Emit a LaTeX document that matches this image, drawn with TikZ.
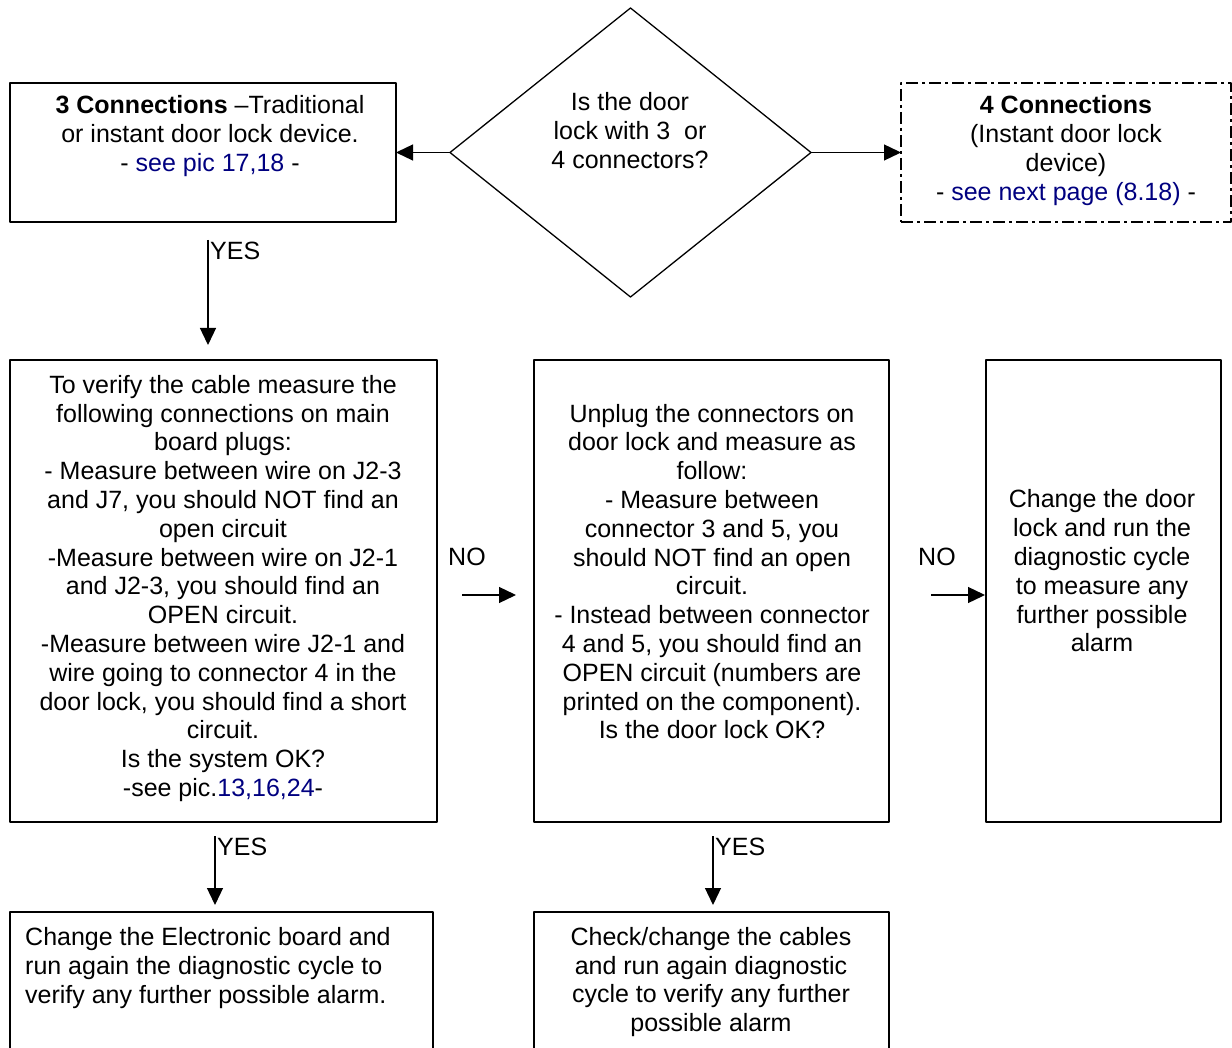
\documentclass[tikz,border=0pt]{standalone}
\usepackage{fontspec}
\setmainfont{Liberation Sans}
\usetikzlibrary{arrows.meta,shapes.geometric}
\definecolor{linkblue}{RGB}{0,0,128}
\newcommand{\lnk}[1]{\textcolor{linkblue}{#1}}

\begin{document}
\begin{tikzpicture}[x=1pt,y=-1pt,>={Triangle[length=17pt,width=16pt]},line join=round,
  box/.style={draw,line width=1.3pt,inner sep=0pt,outer sep=0pt},
  txt/.style={align=center,inner sep=0pt,font=\fontsize{25}{28.8}\selectfont},
  tag/.style={anchor=west,inner sep=0pt,font=\fontsize{25}{28.8}\selectfont},
  arr/.style={->,line width=1.3pt}]
  \useasboundingbox (0,0) rectangle (1232,1048);
  % top row
  \node[box,minimum width=386pt,minimum height=139pt] (conn3) at (203,152.5){};
  \node[txt] at (210,136){\textbf{3 Connections} –Traditional\\or instant door lock device.\\- \lnk{see pic 17,18} -};
  \node[box,diamond,minimum width=361pt,minimum height=289pt] (ask) at (630.5,152.5){};
  \node[txt] at (630,130.5){Is the door\\lock with 3~ or\\4 connectors?};
  \node[box,dash pattern=on 12pt off 4pt on 3pt off 4pt,minimum width=330pt,minimum height=139pt] (conn4) at (1066,152.5){};
  \node[txt] at (1066,150.5){\textbf{4 Connections}\\(Instant door lock\\device)\\- \lnk{see next page (8.18)} -};
  \draw[arr] (ask.west) -- (conn3.east);
  \draw[arr] (ask.east) -- (conn4.west);
  % middle row
  \node[box,minimum width=427pt,minimum height=462pt] (verify) at (223.5,591){};
  \node[txt] at (223,588.5){To verify the cable measure the\\following connections on main\\board plugs:\\- Measure between wire on J2-3\\and J7, you should NOT find an\\open circuit\\-Measure between wire on J2-1\\and J2-3, you should find an\\OPEN circuit.\\-Measure between wire J2-1 and\\wire going to connector 4 in the\\door lock, you should find a short\\circuit.\\Is the system OK?\\-see pic.\lnk{13,16,24}-};
  \node[box,minimum width=355pt,minimum height=462pt] (doorlock) at (711.5,591){};
  \node[txt] at (712,571.5){Unplug the connectors on\\door lock and measure as\\follow:\\- Measure between\\connector 3 and 5, you\\should NOT find an open\\circuit.\\- Instead between connector\\4 and 5, you should find an\\OPEN circuit (numbers are\\printed on the component).\\Is the door lock OK?};
  \node[box,minimum width=235pt,minimum height=462pt] (change) at (1103.5,591){};
  \node[txt] at (1102,571){Change the door\\lock and run the\\diagnostic cycle\\to measure any\\further possible\\alarm};
  \coordinate (yes3) at (208,240);
  \draw[arr,shorten >=15pt] (yes3) -- (yes3 |- verify.north);
  \node[tag] at (210,251){YES};
  \draw[arr,shorten <=25pt,shorten >=18pt] ([yshift=-4pt]verify.east) -- ([yshift=-4pt]doorlock.west);
  \node[tag] at (448,557){NO};
  \draw[arr,shorten <=42pt,shorten >=1pt] ([yshift=-4pt]doorlock.east) -- ([yshift=-4pt]change.west);
  \node[tag] at (918,557){NO};
  % bottom row
  \node[box,minimum width=423pt,minimum height=150pt] (board) at (221.5,987){};
  \node[txt,align=left,anchor=west] at (25,968){Change the Electronic board and\\run again the diagnostic cycle to\\verify any further possible alarm.};
  \node[box,minimum width=355pt,minimum height=150pt] (cables) at (711.5,987){};
  \node[txt] at (711,982){Check/change the cables\\and run again diagnostic\\cycle to verify any further\\possible alarm};
  \coordinate (yes1) at (215,836);
  \draw[arr,shorten >=7pt] (yes1) -- (yes1 |- board.north);
  \node[tag] at (217,847){YES};
  \coordinate (yes2) at (713,836);
  \draw[arr,shorten >=7pt] (yes2) -- (yes2 |- cables.north);
  \node[tag] at (715,847){YES};
\end{tikzpicture}
\end{document}
